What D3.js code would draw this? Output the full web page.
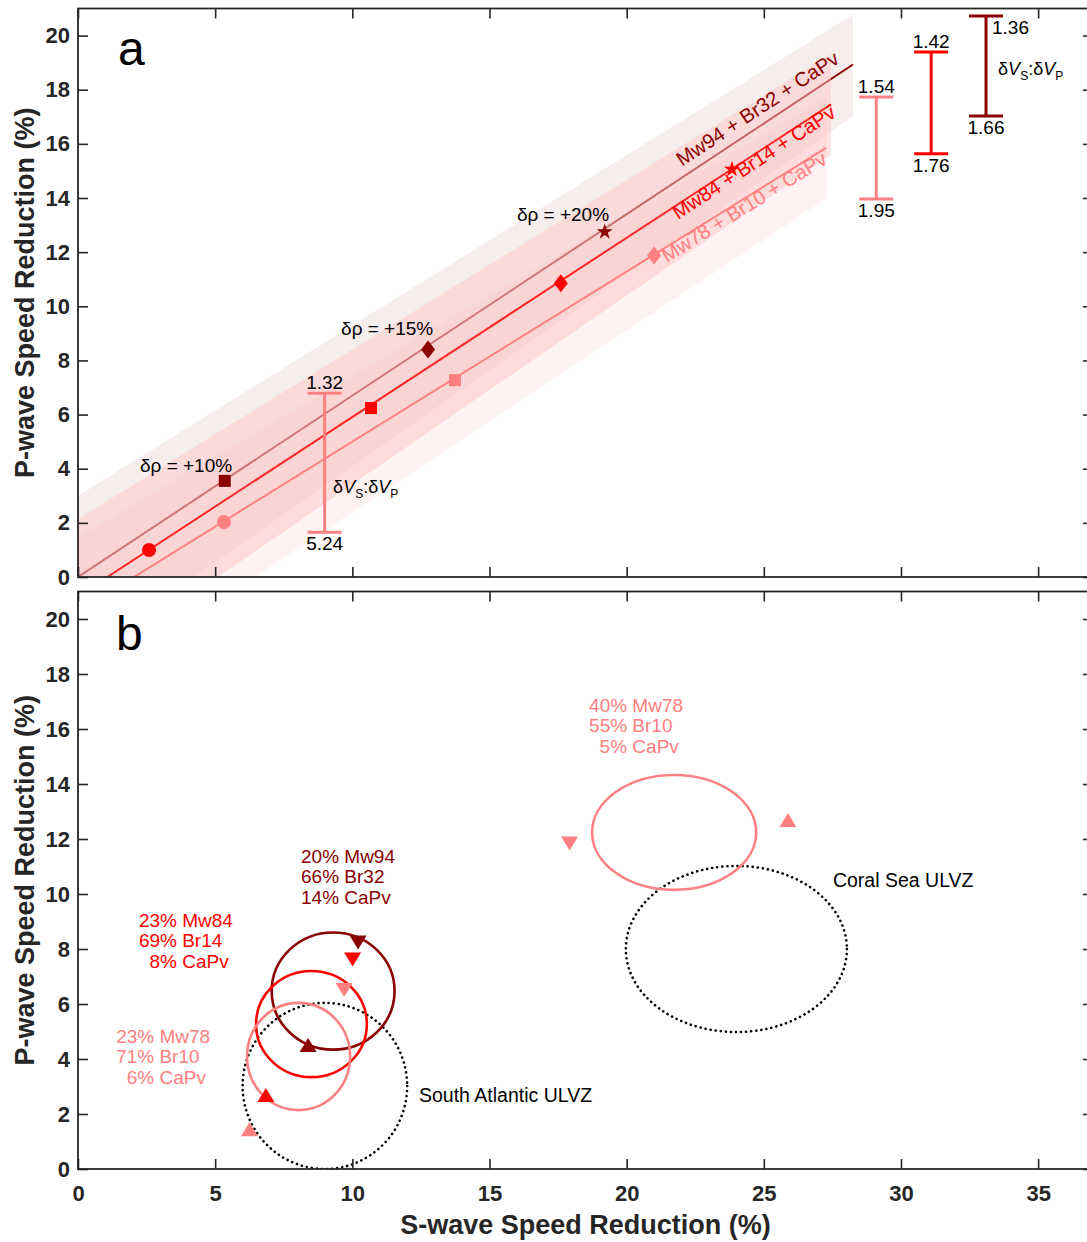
<!DOCTYPE html>
<meta charset="utf-8">
<script src="https://d3js.org/d3.v7.min.js"></script>
<style>
  body { margin: 0; background: #fff; }
  text { font-family: "Liberation Sans", Arial, Helvetica, sans-serif; }
</style>
<body>
<script>
// ---- data ----
var names  = ["Mw94 + Br32 + CaPv", "Mw84 + Br14 + CaPv", "Mw78 + Br10 + CaPv"];
var colors = ["#8b0000", "#ff0000", "#ff8080"];

// composition lines, panel a
var lineX0 = [0.0, 1.07, 2.04],   lineY0 = [0.0, 0.0, 0.0];
var lineX1 = [28.25, 27.45, 27.27], lineY1 = [18.93, 17.46, 15.85];

// uncertainty bands: lower / upper edge at x = 0 and at the line end
var bandLo0 = [-3.0, -3.56, -4.32], bandHi0 = [3.0, 2.14, 1.46];
var bandLo1 = [17.02, 15.6, 13.98],  bandHi1 = [20.77, 19.33, 17.7];
var bandFill = ["#e8d2d2", "#ffc8c8", "#ffc0c0"];
var bandAlpha = [0.4, 0.5, 0.2];

// density markers on each line
var darkPts  = [[5.35, 3.55, "square"], [12.76, 8.4, "diamond"], [19.2, 12.75, "star"]];
var redPts   = [[2.59, 1.0, "circle"], [10.68, 6.24, "square"], [17.6, 10.85, "diamond"], [23.84, 15.06, "star"]];
var lightPts = [[5.32, 2.03, "circle"], [13.74, 7.27, "square"], [21.0, 11.88, "diamond"]];

var rhoText = ["\u03b4\u03c1 = +10%", "\u03b4\u03c1 = +15%", "\u03b4\u03c1 = +20%"];
var rhoX = [2.26, 9.59, 16.0], rhoY = [3.88, 8.94, 13.15];

// line labels (start of baseline)
var nameX = [22.02, 21.87, 21.47], nameY = [15.15, 13.19, 11.6];

// dVs:dVp range bars
var barX   = [8.99, 29.1, 31.1, 33.1];
var barLo  = [1.65, 13.96, 15.63, 17.03];
var barHi  = [6.79, 17.73, 19.39, 20.72];
var barCol = [2, 2, 1, 0];
var barTop = ["1.32", "1.54", "1.42", "1.36"];
var barBot = ["5.24", "1.95", "1.76", "1.66"];

// panel b: model fits
var ringCx = [9.30, 8.51, 8.04, 21.73], ringCy = [6.47, 5.27, 4.09, 12.24];
var ringRx = [2.24, 2.02, 1.88, 2.99],  ringRy = [2.13, 1.93, 1.95, 2.09];
var ringCol = [0, 1, 2, 2];

var ulvzName = ["South Atlantic ULVZ", "Coral Sea ULVZ"];
var ulvzCx = [9.0, 24.0], ulvzCy = [3.02, 8.0], ulvzRx = [3.0, 4.03], ulvzRy = [3.02, 3.02];
var ulvzTx = [12.43, 27.52], ulvzTy = [2.44, 10.25];

var triX  = [8.39, 10.21, 6.85, 10.01, 6.25, 9.70, 17.92, 25.88];
var triY  = [4.51, 8.24, 2.69, 7.62, 1.45, 6.51, 11.84, 12.69];
var triUp = [true, false, true, false, true, false, false, true];
var triCol = [0, 0, 1, 1, 2, 2, 2, 2];

var mixText = [
  ["20% Mw94", "66% Br32", "14% CaPv"],
  ["23% Mw84", "69% Br14", "  8% CaPv"],
  ["23% Mw78", "71% Br10", "  6% CaPv"],
  ["40% Mw78", "55% Br10", "  5% CaPv"]
];
var mixCol = [0, 1, 2, 2];
var mixX = [8.13, 2.22, 1.39, 18.63], mixY = [11.13, 8.8, 4.58, 16.62];

var xTicks = [0, 5, 10, 15, 20, 25, 30, 35];
var yTicks = [0, 2, 4, 6, 8, 10, 12, 14, 16, 18, 20];

// ---- drawing ----
var axisColor = "#262626";
var svg = d3.select("body").append("svg")
    .attr("width", 1087).attr("height", 1242)
    .style("background", "#fff");

var x  = d3.scaleLinear().domain([0, 37]).range([78, 1093]);
var ya = d3.scaleLinear().domain([0, 21]).range([577, 8.5]);
var yb = d3.scaleLinear().domain([0, 21]).range([1169, 591.5]);

svg.append("clipPath").attr("id", "clipA").append("rect")
    .attr("x", x(0)).attr("y", ya(21)).attr("width", x(37) - x(0)).attr("height", ya(0) - ya(21));
svg.append("clipPath").attr("id", "clipB").append("rect")
    .attr("x", x(0)).attr("y", yb(21)).attr("width", x(37) - x(0)).attr("height", yb(0) - yb(21));

function marker(shape) {
    if (shape == "circle") return "M7,0A7,7 0 1,1 -7,0A7,7 0 1,1 7,0Z";
    if (shape == "square") return "M-6,-6H6V6H-6Z";
    if (shape == "diamond") return "M0,-9L7,0L0,9L-7,0Z";
    if (shape == "star") return d3.symbol(d3.symbolStar, 80)();
    if (shape == "up") return "M0,-7L8.5,7L-8.5,7Z";
    return "M0,7L8.5,-7L-8.5,-7Z";
}

// panel a
var ga = svg.append("g").attr("clip-path", "url(#clipA)");
var allPts = [darkPts, redPts, lightPts];
var line = d3.line().x(function (d) { return x(d[0]); }).y(function (d) { return ya(d[1]); });

for (var i = 0; i < 3; i++) {
    ga.append("path")
        .attr("d", line([[0, bandLo0[i]], [lineX1[i], bandLo1[i]], [lineX1[i], bandHi1[i]], [0, bandHi0[i]]]) + "Z")
        .attr("fill", bandFill[i])
        .attr("fill-opacity", bandAlpha[i]);
    ga.append("path")
        .attr("d", line([[lineX0[i], lineY0[i]], [lineX1[i], lineY1[i]]]))
        .attr("stroke", colors[i])
        .attr("stroke-width", 2)
        .attr("fill", "none");
}

for (var i = 0; i < 3; i++) {
    ga.selectAll(null)
        .data(allPts[i])
        .enter()
        .append("path")
        .attr("d", function (d) { return marker(d[2]); })
        .attr("transform", function (d) { return "translate(" + x(d[0]) + "," + ya(d[1]) + ")"; })
        .attr("fill", colors[i]);
}

// rotated line labels
for (var i = 0; i < 3; i++) {
    var ang = Math.atan2(ya(lineY1[i]) - ya(lineY0[i]), x(lineX1[i]) - x(lineX0[i])) * 180 / Math.PI;
    svg.append("text")
        .attr("transform", "translate(" + x(nameX[i]) + "," + ya(nameY[i]) + ") rotate(" + ang + ")")
        .attr("font-size", 20)
        .attr("fill", colors[i])
        .text(names[i]);
}

for (var i = 0; i < 3; i++) {
    svg.append("text")
        .attr("x", x(rhoX[i])).attr("y", ya(rhoY[i]))
        .attr("font-size", 19)
        .attr("fill", "#000")
        .text(rhoText[i]);
}

function ratioLabel(px, py) {
    var t = svg.append("text").attr("x", px).attr("y", py).attr("font-size", 18).attr("fill", "#000");
    t.append("tspan").text("\u03b4");
    t.append("tspan").attr("font-style", "italic").text("V");
    t.append("tspan").attr("font-size", 12).attr("dy", 5).text("S");
    t.append("tspan").attr("dy", -5).text(":\u03b4");
    t.append("tspan").attr("font-style", "italic").text("V");
    t.append("tspan").attr("font-size", 12).attr("dy", 5).text("P");
}

// ratio bars
for (var i = 0; i < barX.length; i++) {
    var c = colors[barCol[i]];
    var bx = x(barX[i]), yTop = ya(barHi[i]), yBot = ya(barLo[i]);
    var g = svg.append("g").attr("stroke", c).attr("stroke-width", 3);
    g.append("line").attr("x1", bx).attr("x2", bx).attr("y1", yTop).attr("y2", yBot);
    g.append("line").attr("x1", bx - 17).attr("x2", bx + 17).attr("y1", yTop).attr("y2", yTop);
    g.append("line").attr("x1", bx - 17).attr("x2", bx + 17).attr("y1", yBot).attr("y2", yBot);
    var tl = svg.append("text").attr("font-size", 19).attr("fill", "#000").text(barTop[i]);
    if (i == 3) tl.attr("x", bx + 6).attr("y", yTop + 18);
    else tl.attr("x", bx).attr("y", yTop - 4).attr("text-anchor", "middle");
    svg.append("text").attr("font-size", 19).attr("fill", "#000")
        .attr("x", bx).attr("y", yBot + 18).attr("text-anchor", "middle").text(barBot[i]);
}
ratioLabel(x(9.30), ya(3.10));
ratioLabel(x(33.54), ya(18.54));

// panel b
var gb = svg.append("g").attr("clip-path", "url(#clipB)");
for (var i = 0; i < 2; i++) {
    gb.append("ellipse")
        .attr("cx", x(ulvzCx[i])).attr("cy", yb(ulvzCy[i]))
        .attr("rx", x(ulvzRx[i]) - x(0)).attr("ry", yb(0) - yb(ulvzRy[i]))
        .attr("fill", "none").attr("stroke", "#000").attr("stroke-width", 2.6)
        .attr("stroke-linecap", "round").attr("stroke-dasharray", "0.1,5");
    svg.append("text").attr("x", x(ulvzTx[i])).attr("y", yb(ulvzTy[i]))
        .attr("font-size", 19.5).attr("fill", "#000").text(ulvzName[i]);
}
for (var i = 0; i < ringCx.length; i++) {
    gb.append("ellipse")
        .attr("cx", x(ringCx[i])).attr("cy", yb(ringCy[i]))
        .attr("rx", x(ringRx[i]) - x(0)).attr("ry", yb(0) - yb(ringRy[i]))
        .attr("fill", "none").attr("stroke", colors[ringCol[i]]).attr("stroke-width", 2.6);
}
gb.selectAll(null)
    .data(d3.range(triX.length))
    .enter()
    .append("path")
    .attr("d", function (i) { return marker(triUp[i] ? "up" : "down"); })
    .attr("transform", function (i) { return "translate(" + x(triX[i]) + "," + yb(triY[i]) + ")"; })
    .attr("fill", function (i) { return colors[triCol[i]]; });

for (var i = 0; i < mixText.length; i++) {
    var t = svg.append("text")
        .attr("x", x(mixX[i])).attr("y", yb(mixY[i]))
        .attr("xml:space", "preserve").style("white-space", "pre")
        .attr("font-size", 19).attr("fill", colors[mixCol[i]]);
    mixText[i].forEach(function (s, k) {
        t.append("tspan").attr("x", x(mixX[i])).attr("dy", k == 0 ? 0 : 20.3).text(s);
    });
}

// axes + frames
function frame(y, labels) {
    var g = svg.append("g");
    g.append("g").attr("transform", "translate(" + x(0) + ",0)")
        .call(d3.axisLeft(y).tickValues(yTicks).tickSizeInner(-10).tickSizeOuter(0).tickPadding(8));
    g.append("g").attr("transform", "translate(" + x(37) + ",0)")
        .call(d3.axisRight(y).tickValues(yTicks).tickSizeInner(-10).tickSizeOuter(0).tickFormat(""));
    g.append("g").attr("transform", "translate(0," + y(21) + ")")
        .call(d3.axisTop(x).tickValues(xTicks).tickSizeInner(-10).tickSizeOuter(0).tickFormat(""));
    var ax = d3.axisBottom(x).tickValues(xTicks).tickSizeInner(-10).tickSizeOuter(0).tickPadding(16);
    if (!labels) ax.tickFormat("");
    g.append("g").attr("transform", "translate(0," + y(0) + ")").call(ax);
    g.selectAll(".domain").remove();
    g.selectAll(".tick line").attr("stroke", axisColor).attr("stroke-width", 1.6);
    g.selectAll("text")
        .attr("font-family", "'Liberation Sans', Arial, sans-serif")
        .attr("font-size", 22).attr("font-weight", "bold").attr("fill", axisColor);
    g.append("rect")
        .attr("x", x(0)).attr("y", y(21)).attr("width", x(37) - x(0)).attr("height", y(0) - y(21))
        .attr("fill", "none").attr("stroke", axisColor).attr("stroke-width", 1.8);
    svg.append("text")
        .attr("transform", "translate(34," + (y(0) + y(21)) / 2 + ") rotate(-90)")
        .attr("text-anchor", "middle")
        .attr("font-size", 27).attr("font-weight", "bold").attr("fill", axisColor)
        .text("P-wave Speed Reduction (%)");
}
frame(ya, false);
frame(yb, true);

svg.append("text")
    .attr("x", (x(0) + x(37)) / 2).attr("y", 1234)
    .attr("text-anchor", "middle")
    .attr("font-size", 27).attr("font-weight", "bold").attr("fill", axisColor)
    .text("S-wave Speed Reduction (%)");

svg.append("text").attr("x", 118).attr("y", 65).attr("font-size", 48).attr("fill", "#000").text("a");
svg.append("text").attr("x", 116).attr("y", 650).attr("font-size", 48).attr("fill", "#000").text("b");
</script>
</body>
